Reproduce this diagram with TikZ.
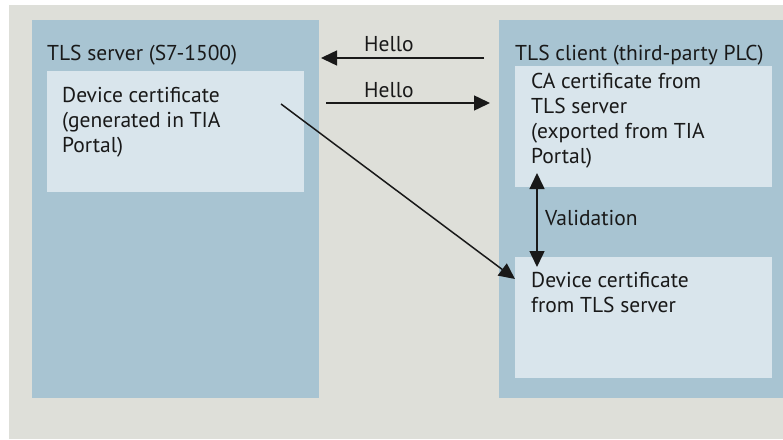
\documentclass[tikz,border=0pt]{standalone}
\usepackage{fontspec}
\setmainfont{PT Sans}
\usetikzlibrary{arrows.meta}
\usetikzlibrary{positioning}
\definecolor{panelgray}{RGB}{222,223,217}
\definecolor{boxblue}{RGB}{168,196,210}
\definecolor{certblue}{RGB}{217,229,236}
\definecolor{inkblack}{RGB}{25,25,25}

\begin{document}
\begin{tikzpicture}[x=1pt,y=-1pt,
    box/.style={fill=boxblue, inner sep=0, anchor=north west},
    certbox/.style={fill=certblue, inner sep=0, anchor=north west, minimum width=257pt, minimum height=121pt},
    txt/.style={inner sep=0, anchor=base west, text=inkblack, align=left, font=\fontsize{21.5}{25}\selectfont},
    msg/.style={line width=1.5pt, draw=inkblack, -{Triangle[length=16pt,width=15pt]}}]
    \useasboundingbox[fill=white] (0,0) rectangle (783,439);
    %grey panel
    \fill[panelgray] (9,5) rectangle (783,439);
    %server and client
    \node[box, minimum width=287pt, minimum height=378pt] (server) at (32,20) {};
    \node[box, minimum width=284pt, minimum height=378pt] (client) at (499,20) {};
    \node[certbox] (srvcert) at (47,71) {};
    \node[certbox] (cacert) at (515,66) {};
    \node[certbox] (devcert) at (515,257) {};
    \node[txt] (srvtitle) at (47,60) {TLS server (S7-1500)};
    \node[txt] (clititle) at (515,60) {TLS client (third-party PLC)};
    %multi-line texts sit on their last line
    \node[txt] (srvtxt) at (62,152) {Device certificate\\(generated in TIA\\Portal)};
    \node[txt] (catxt) at (531,163) {CA certificate from\\TLS server\\(exported from TIA\\Portal)};
    \node[txt] (devtxt) at (531,312) {Device certificate\\from TLS server};
    %messages
    \coordinate (helloA) at (484,58);
    \coordinate (helloB) at (321,58);
    \coordinate (helloC) at (326,103);
    \coordinate (helloD) at (490,103);
    \draw[msg] (helloA) -- (helloB);
    \draw[msg] (helloC) -- (helloD);
    \node[txt] (hello1) at (364,51) {Hello};
    \node[txt] (hello2) at (364,97) {Hello};
    %certificate copy and check
    \coordinate (copyA) at (281,104);
    \coordinate (copyB) at (515,279);
    \draw[msg] (copyA) -- (copyB);
    \coordinate (checkA) at (537,173);
    \coordinate (checkB) at (537,267);
    \draw[msg, {Triangle[length=16pt,width=15pt]}-{Triangle[length=16pt,width=15pt]}] (checkA) -- (checkB);
    \node[txt] (valid) at (545,225) {Validation};
\end{tikzpicture}
\end{document}
